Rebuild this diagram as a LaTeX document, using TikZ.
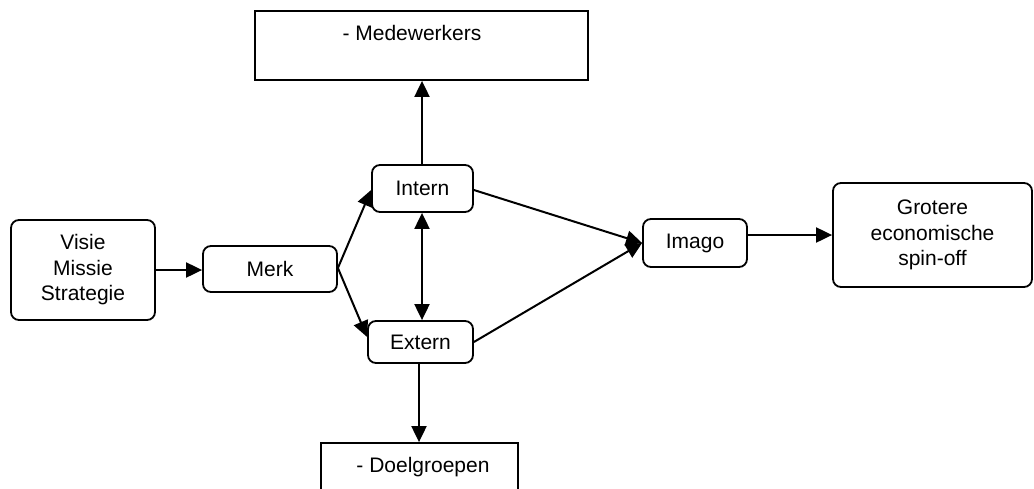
\documentclass[tikz,border=0pt]{standalone}
\usepackage{fontspec}
\setmainfont{Liberation Sans}
\usetikzlibrary{arrows.meta}
\begin{document}
\begin{tikzpicture}[x=1pt,y=-1pt,
  every node/.style={font=\fontsize{21}{25.5}\selectfont},
  rbox/.style={draw, line width=1.8pt, rounded corners=8pt, inner sep=0pt, align=center},
  sbox/.style={draw, line width=1.8pt, inner sep=0pt},
  conn/.style={line width=2pt, -{Triangle[length=16pt,width=15pt]}},
  biconn/.style={line width=2pt, {Triangle[length=16pt,width=15pt]}-{Triangle[length=16pt,width=15pt]}}]
  \useasboundingbox (0,0) rectangle (1034,488);
  \clip (0,0) rectangle (1034,488);

  % main chain of boxes
  \node[rbox, minimum width=144pt, minimum height=100pt] (visie) at (83,270) {Visie\\Missie\\Strategie};
  \node[rbox, minimum width=134pt, minimum height=46pt] (merk) at (270,269) {Merk};
  \node[rbox, minimum width=101pt, minimum height=47pt] (intern) at (422.5,188.5) {Intern};
  \node[rbox, minimum width=105pt, minimum height=42pt] (extern) at (420.5,342) {Extern};
  \node[rbox, minimum width=104pt, minimum height=48pt] (imago) at (695,243) {Imago};
  \node[rbox, minimum width=199pt, minimum height=104pt] (spin) at (932.5,235) {Grotere\\economische\\spin-off};

  % target groups, text near the top of each box
  \node[sbox, minimum width=333pt, minimum height=69pt] (medw) at (421.5,45.5) {};
  \node (medwtxt) at (412,33) {- Medewerkers};
  \node[sbox, minimum width=197pt, minimum height=90pt] (doel) at (419.5,488) {};
  \node (doeltxt) at (423,467) {- Doelgroepen};

  % connectors
  \draw[conn] (visie.east |- 0,270) -- (merk.west |- 0,270);
  \coordinate (split) at (merk.east |- 0,268);
  \draw[conn] (split) -- (intern.west |- 0,190);
  \draw[conn] (split) -- (extern.west |- 0,337);
  \draw[biconn] (intern.south -| 422,0) -- (extern.north -| 422,0);
  \draw[conn] (intern.north -| 422,0) -- (medw.south -| 422,0);
  \draw[conn] (extern.south -| 419,0) -- (doel.north -| 419,0);
  \draw[conn] (intern.east |- 0,190) -- (imago.west);
  \draw[conn] (extern.east |- 0,342) -- (imago.west);
  \draw[conn] (imago.east |- 0,235) -- (spin.west |- 0,235);
\end{tikzpicture}
\end{document}
